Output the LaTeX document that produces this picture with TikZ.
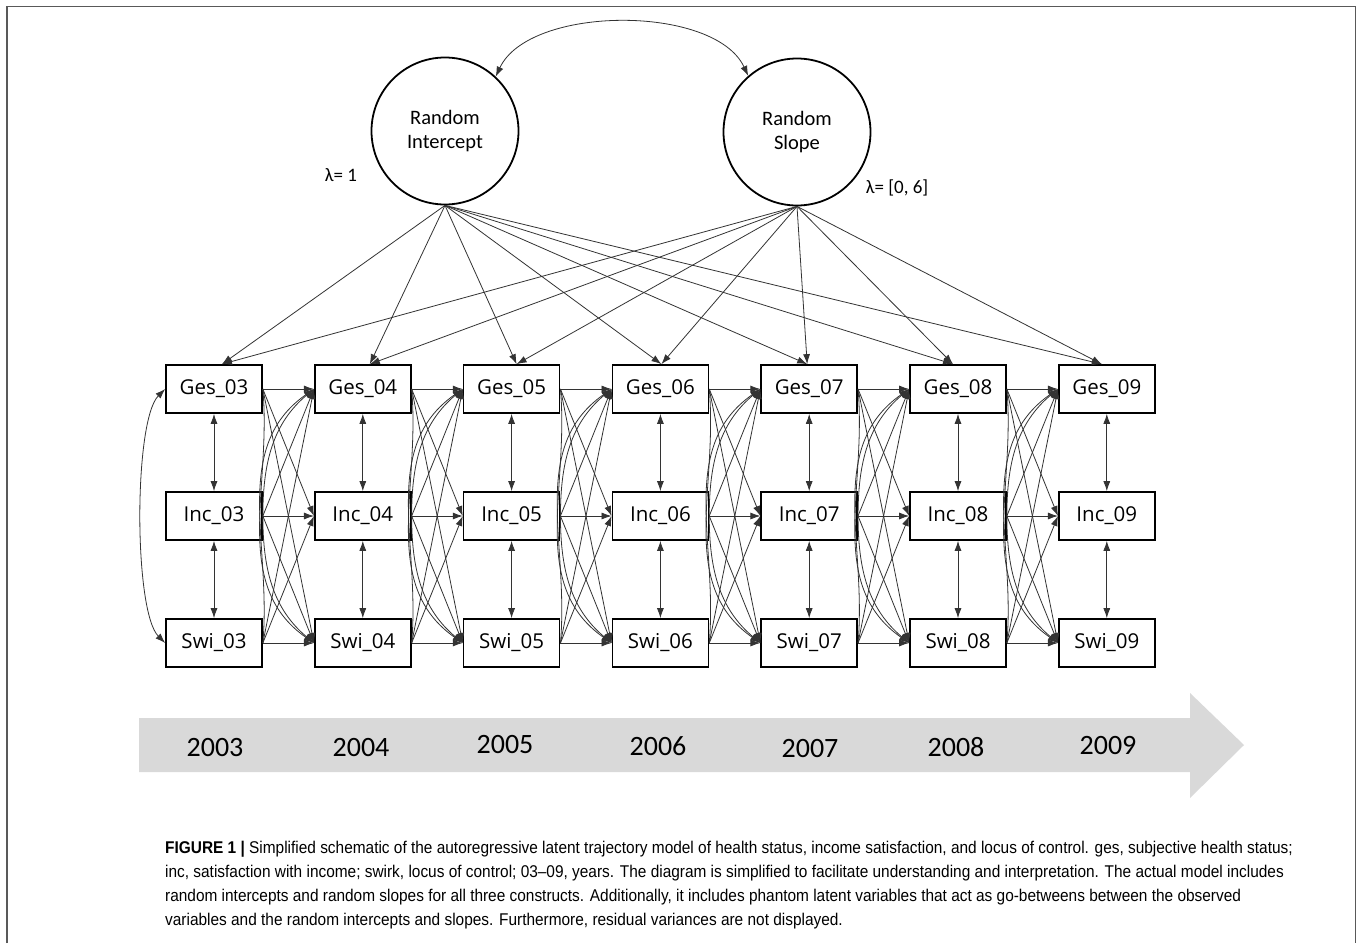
\documentclass[tikz,border=0pt]{standalone}
\usepackage{fontspec}
\setmainfont{Liberation Sans}
\newfontfamily\boxfont{Open Sans}
\newfontfamily\calfont{Carlito}
\usetikzlibrary{arrows.meta,calc}
\definecolor{linecol}{HTML}{333333}
\definecolor{bannercol}{HTML}{D9D9D9}
\tikzset{
  varbox/.style={draw=black, line width=1.7pt, minimum width=96pt, minimum height=48pt, inner sep=0pt, font=\boxfont\fontsize{20.5}{24}\selectfont},
  latent/.style={draw=black, line width=1.8pt, circle, minimum size=147pt, inner sep=0pt, align=center, font=\calfont\fontsize{20.5}{24}\selectfont},
  conn/.style={draw=linecol, line width=0.8pt, -{Latex[length=10pt,width=7pt]}},
  dconn/.style={draw=linecol, line width=0.8pt, {Latex[length=10pt,width=7pt]}-{Latex[length=10pt,width=7pt]}},
  yearlab/.style={font=\calfont\fontsize{28}{30}\selectfont},
  lamlab/.style={font=\calfont\fontsize{19}{22}\selectfont},
  capline/.style={anchor=base west, inner sep=0pt, font=\fontsize{17}{20}\selectfont}
}
\begin{document}
\begin{tikzpicture}[x=1pt,y=1pt]
\useasboundingbox (0,0) rectangle (1358,-943);
\fill[white] (0,0) rectangle (1358,-943);
\draw[line width=1.2pt, black!65] (7,-943) -- (7,-6.5) -- (1355.5,-6.5) -- (1355.5,-943);

% banner
\fill[bannercol] (139,-718) -- (1190,-718) -- (1190,-693) -- (1244,-745) -- (1190,-798) -- (1190,-772) -- (139,-772) -- cycle;
\node[yearlab] (y03) at (215,-747) {2003};
\node[yearlab] (y04) at (361,-747) {2004};
\node[yearlab] (y05) at (505,-744) {2005};
\node[yearlab] (y06) at (658,-746) {2006};
\node[yearlab] (y07) at (810,-748) {2007};
\node[yearlab] (y08) at (956,-747) {2008};
\node[yearlab] (y09) at (1108,-746) {2009};

% latent variables
\node[latent] (RI) at (445,-131) {Random\\Intercept};
\node[latent] (RS) at (797,-132) {Random\\Slope};
\node[lamlab] (l1) at (341,-175) {λ= 1};
\node[lamlab] (l2) at (897,-188) {λ= [0, 6]};
\draw[dconn] (RI.47) to[out=65,in=115,looseness=0.8] (RS.131);

% observed variables
\foreach \i/\yr in {0/03,1/04,2/05,3/06,4/07,5/08,6/09} {
  \node[varbox] (G\yr) at ({214+148.8*\i},-389) {Ges\_\yr};
  \node[varbox] (I\yr) at ({214+148.8*\i},-516) {Inc\_\yr};
  \node[varbox] (S\yr) at ({214+148.8*\i},-643) {Swi\_\yr};
  \draw[dconn] (G\yr.south) -- (I\yr.north);
  \draw[dconn] (I\yr.south) -- (S\yr.north);
}

% loadings
\foreach \yr/\dx in {03/8,04/7,05/5,06/1,07/-2,08/-5,09/-5} {
  \coordinate (T\yr) at ($(G\yr.north)+(\dx,0)$);
  \draw[conn] (RI.south) -- (T\yr);
  \draw[conn] (RS.south) -- (T\yr);
}

% cross-lagged paths
\foreach \a/\b in {03/04,04/05,05/06,06/07,07/08,08/09} {
  \draw[conn] (G\a.east) -- (G\b.west);
  \draw[conn] (I\a.east) -- (I\b.west);
  \draw[conn] (S\a.east) -- (S\b.west);
  \draw[conn] (G\a.east) -- (I\b.west);
  \draw[conn] (G\a.east) -- (S\b.west);
  \draw[conn] (I\a.east) -- (G\b.west);
  \draw[conn] (I\a.east) -- (S\b.west);
  \draw[conn] (S\a.east) -- (G\b.west);
  \draw[conn] (S\a.east) -- (I\b.west);
  \draw[conn] (S\a.east) to[out=85,in=215] (G\b.west);
  \draw[conn] (I\a.east) to[out=90,in=220] (G\b.west);
  \draw[conn] (G\a.east) to[out=-85,in=145] (S\b.west);
  \draw[conn] (I\a.east) to[out=-90,in=140] (S\b.west);
}

% left covariance
\draw[dconn] (G03.west) to[out=225,in=135,looseness=0.45] (S03.west);

% caption
\node[capline] (c1) at (165,-853) {\scalebox{0.907}[1]{\textbf{FIGURE 1 |} Simplified schematic of the autoregressive latent trajectory model of health status, income satisfaction, and locus of control. ges, subjective health status;}};
\node[capline] (c2) at (165,-877) {\scalebox{0.907}[1]{inc, satisfaction with income; swirk, locus of control; 03–09, years. The diagram is simplified to facilitate understanding and interpretation. The actual model includes}};
\node[capline] (c3) at (165,-901) {\scalebox{0.907}[1]{random intercepts and random slopes for all three constructs. Additionally, it includes phantom latent variables that act as go-betweens between the observed}};
\node[capline] (c4) at (165,-925) {\scalebox{0.907}[1]{variables and the random intercepts and slopes. Furthermore, residual variances are not displayed.}};
\end{tikzpicture}
\end{document}
